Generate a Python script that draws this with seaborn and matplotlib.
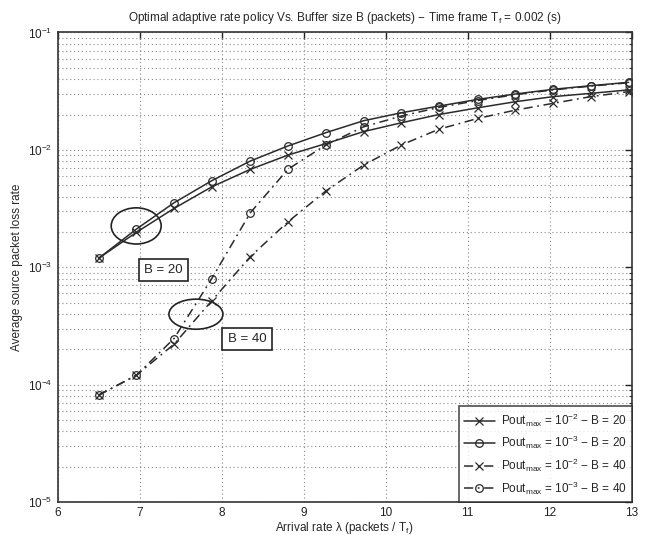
import numpy as np
import pandas as pd
import seaborn as sns
import matplotlib
matplotlib.use('Agg')
import matplotlib.pyplot as plt
from matplotlib.patches import Ellipse
from matplotlib.ticker import LogLocator, NullFormatter

# arrival rate (packets / Tf)
lam = [6.50, 6.96, 7.42, 7.88, 8.35, 8.81, 9.27, 9.73, 10.19, 10.65, 11.12, 11.58, 12.04, 12.50, 12.96]

# average source packet loss rate
b20_p2 = [1.19e-3, 1.98e-3, 3.17e-3, 4.84e-3, 6.82e-3, 9.03e-3, 1.13e-2, 1.43e-2, 1.70e-2, 2.00e-2, 2.28e-2, 2.57e-2, 2.84e-2, 3.03e-2, 3.24e-2]
b20_p3 = [1.19e-3, 2.11e-3, 3.54e-3, 5.46e-3, 8.03e-3, 1.08e-2, 1.40e-2, 1.77e-2, 2.07e-2, 2.36e-2, 2.69e-2, 2.99e-2, 3.28e-2, 3.52e-2, 3.76e-2]
b40_p2 = [8.13e-5, 1.20e-4, 2.21e-4, 5.18e-4, 1.23e-3, 2.44e-3, 4.46e-3, 7.41e-3, 1.10e-2, 1.50e-2, 1.85e-2, 2.18e-2, 2.49e-2, 2.84e-2, 3.13e-2]
b40_p3 = [8.13e-5, 1.20e-4, 2.47e-4, 8.00e-4, 2.91e-3, 6.85e-3, 1.10e-2, 1.57e-2, 1.94e-2, 2.30e-2, 2.63e-2, 2.95e-2, 3.24e-2, 3.49e-2, 3.73e-2]

labels = [r'Pout$_{\rm max}$ = 10$^{-2}$ $-$ B = 20',
          r'Pout$_{\rm max}$ = 10$^{-3}$ $-$ B = 20',
          r'Pout$_{\rm max}$ = 10$^{-2}$ $-$ B = 40',
          r'Pout$_{\rm max}$ = 10$^{-3}$ $-$ B = 40']

sns.set_style('white')
plt.rcParams['font.family'] = ['Liberation Sans', 'DejaVu Sans']
plt.rcParams['mathtext.fontset'] = 'custom'
plt.rcParams['mathtext.rm'] = 'Liberation Sans'
plt.rcParams['mathtext.it'] = 'Liberation Sans:italic'
plt.rcParams['mathtext.bf'] = 'Liberation Sans:bold'

fig = plt.figure(figsize=(6.5, 5.35), dpi=100)
ax = fig.add_axes([0.0885, 0.0617, 0.8835, 0.8776])

col = '#2b2b2b'
dashdot = (0, (6, 3, 1.2, 3))
series = [(b20_p2, 'x', '-'), (b20_p3, 'o', '-'), (b40_p2, 'x', dashdot), (b40_p3, 'o', dashdot)]
for (vals, mk, ls), lab in zip(series, labels):
    df = pd.DataFrame({'lam': lam, 'loss': vals})
    sns.lineplot(data=df, x='lam', y='loss', ax=ax, color=col, marker=mk,
                 linestyle=ls, linewidth=1.1, markersize=5.5,
                 markerfacecolor='none', markeredgecolor=col, markeredgewidth=0.9,
                 label=lab)

ax.set_yscale('log')
ax.set_xlim(6, 13)
ax.set_ylim(1e-5, 1e-1)
ax.set_xticks(range(6, 14))
ax.yaxis.set_major_locator(LogLocator(base=10, numticks=10))
ax.yaxis.set_minor_locator(LogLocator(base=10, subs=np.arange(2, 10), numticks=10))
ax.yaxis.set_minor_formatter(NullFormatter())
ax.tick_params(axis='both', which='both', direction='in', top=True, right=True,
               labelsize=8.5, colors='#222222')
ax.tick_params(axis='both', which='major', length=5, width=1.0)
ax.tick_params(axis='y', which='minor', length=2.5, width=0.8)
gridstyle = dict(linestyle=(0, (1, 2.5)), color='#8a8a8a', linewidth=0.8)
ax.grid(True, which='major', axis='x', **gridstyle)
ax.grid(True, which='both', axis='y', **gridstyle)
for s in ax.spines.values():
    s.set_color('#333333')
    s.set_linewidth(1.2)

ax.set_title(r'Optimal adaptive rate policy Vs. Buffer size B (packets) $-$ Time frame T$_{\rm f}$ = 0.002 (s)',
             fontsize=8.5, pad=8)
ax.set_xlabel(r'Arrival rate λ (packets / T$_{\rm f}$)', fontsize=8.5, labelpad=1)
ax.set_ylabel('Average source packet loss rate', fontsize=8.5, labelpad=4)

# annotations
ax.add_patch(Ellipse((0.137, 0.588), 0.087, 0.077, transform=ax.transAxes,
                     fill=False, edgecolor='#222222', linewidth=1.2))
ax.add_patch(Ellipse((0.241, 0.400), 0.094, 0.064, transform=ax.transAxes,
                     fill=False, edgecolor='#222222', linewidth=1.2))
box = dict(boxstyle='square,pad=0.4', facecolor='white', edgecolor='#222222', linewidth=1.2)
ax.text(0.184, 0.494, 'B = 20', transform=ax.transAxes, ha='center', va='center', fontsize=9.5, bbox=box)
ax.text(0.330, 0.347, 'B = 40', transform=ax.transAxes, ha='center', va='center', fontsize=9.5, bbox=box)

leg = ax.legend(loc='lower right', fontsize=8.5, frameon=True, fancybox=False,
                borderaxespad=0, handlelength=2.6, handletextpad=0.5,
                labelspacing=0.45, borderpad=0.45)
leg.get_frame().set_edgecolor('#222222')
leg.get_frame().set_linewidth(1.2)

fig.savefig('out.png', dpi=100)
